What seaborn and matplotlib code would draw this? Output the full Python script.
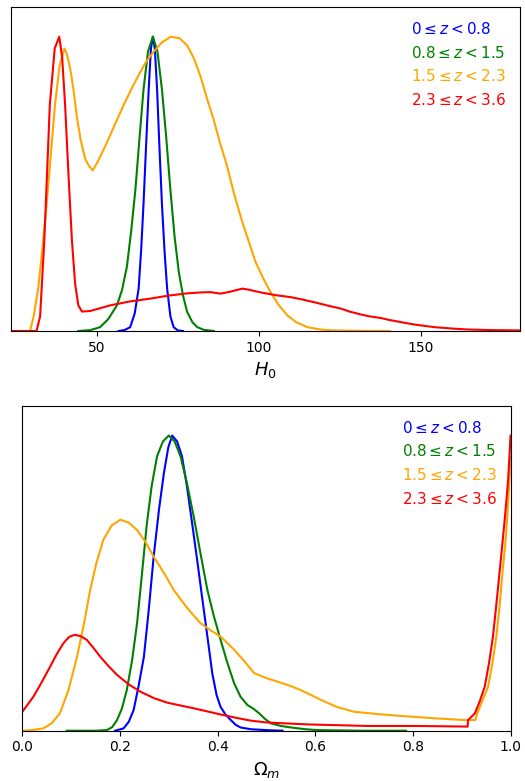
import numpy as np
import pandas as pd
import matplotlib
matplotlib.use("Agg")
import matplotlib.pyplot as plt
import seaborn as sns

# redshift bins and their colours
labels = [r"$0\leq z<0.8$", r"$0.8\leq z<1.5$", r"$1.5\leq z<2.3$", r"$2.3\leq z<3.6$"]
colors = ["blue", "green", "orange", "red"]

# ---- H0 marginals (normalised to peak = 1)
h0_blue_x = [56.7, 58.5, 60.3, 61.7, 62.9, 63.7, 64.4, 65.2, 66.0, 66.7, 67.3, 67.9, 68.6, 69.3, 70.1,
             70.9, 71.7, 72.7, 73.7, 75.0, 76.6]
h0_blue_y = [0, 0.003, 0.013, 0.06, 0.144, 0.28, 0.43, 0.63, 0.82, 0.96, 1.0, 0.96, 0.82, 0.63, 0.43,
             0.27, 0.144, 0.05, 0.013, 0.002, 0]

h0_green_x = [44.3, 48, 51, 53.5, 56.2, 57.8, 59.3, 60.6, 61.9, 63.2, 64.4, 65.8, 67.3, 68.7, 70.1,
              71.4, 72.7, 74.0, 75.3, 76.6, 77.9, 79.5, 81, 83, 86.1]
h0_green_y = [0, 0.003, 0.013, 0.04, 0.087, 0.14, 0.22, 0.34, 0.48, 0.66, 0.82, 0.95, 1.0, 0.95, 0.82,
              0.66, 0.48, 0.32, 0.2, 0.12, 0.064, 0.03, 0.013, 0.004, 0]

h0_orange_x = [29.4, 30.5, 31.9, 33.2, 34.5, 35.8, 37.1, 38.5, 40.0, 40.8, 41.8, 42.8, 43.8, 45.0, 46.4,
               47.6, 48.8, 50.5, 53.1, 55.5, 58.2, 60.8, 63.4, 65.5, 67.5, 70, 72.8, 75.5, 77.9, 80,
               82, 84, 86, 88, 90.2, 92.5, 94.9, 97, 99, 101.3, 103.6, 106, 108.8, 111.5, 115,
               119, 123, 130, 140.5]
h0_orange_y = [0, 0.05, 0.144, 0.28, 0.43, 0.6, 0.77, 0.9, 0.96, 0.94, 0.89, 0.82, 0.73, 0.65, 0.585,
               0.56, 0.546, 0.58, 0.64, 0.70, 0.766, 0.825, 0.88, 0.92, 0.948, 0.98, 1.0, 0.995, 0.97, 0.925,
               0.865, 0.79, 0.72, 0.64, 0.56, 0.46, 0.37, 0.3, 0.234, 0.18, 0.132, 0.09, 0.053, 0.03, 0.013,
               0.005, 0.002, 0.001, 0]

h0_red_x = [23.6, 31.4, 32.5, 33.8, 35.5, 37.0, 38.4, 39.3, 40.2, 41.3, 42.3, 43.3, 44.3, 45.4, 48,
            54.1, 60, 66.5, 72, 78, 82, 85, 88.2, 91, 94.9, 97, 100.6, 105, 109.8, 113,
            117, 121, 125.3, 128, 131.5, 134, 137.7, 140, 143.9, 148, 154.2, 160, 164.6, 172, 180.6]
h0_red_y = [0, 0, 0.05, 0.31, 0.77, 0.96, 1.0, 0.93, 0.77, 0.52, 0.31, 0.16, 0.087, 0.066, 0.068,
            0.087, 0.1, 0.11, 0.12, 0.128, 0.131, 0.132, 0.127, 0.133, 0.144, 0.14, 0.131, 0.122, 0.115, 0.108,
            0.098, 0.087, 0.076, 0.066, 0.056, 0.05, 0.044, 0.038, 0.03, 0.022, 0.013, 0.008, 0.005, 0.003, 0.002]

# ---- Omega_m marginals
om_blue_x = [0.19, 0.2075, 0.218, 0.228, 0.238, 0.249, 0.259, 0.269, 0.280, 0.290, 0.299, 0.307, 0.317,
             0.327, 0.337, 0.348, 0.358, 0.368, 0.379, 0.389, 0.398, 0.406, 0.416, 0.427, 0.437, 0.447,
             0.468, 0.5, 0.533]
om_blue_y = [0, 0.008, 0.03, 0.07, 0.15, 0.25, 0.41, 0.59, 0.75, 0.873, 0.96, 1.0, 0.98,
             0.93, 0.83, 0.70, 0.58, 0.455, 0.32, 0.195, 0.12, 0.081, 0.055, 0.036, 0.02, 0.011,
             0.005, 0.002, 0]

om_green_x = [0.091, 0.15, 0.173, 0.184, 0.194, 0.204, 0.214, 0.225, 0.235, 0.245, 0.255, 0.265, 0.276,
              0.288, 0.30, 0.312, 0.324, 0.337, 0.351, 0.365, 0.379, 0.392, 0.406, 0.420, 0.434, 0.447,
              0.461, 0.473, 0.485, 0.497, 0.509, 0.53, 0.55, 0.58, 0.605, 0.7, 0.786]
om_green_y = [0, 0, 0.002, 0.012, 0.036, 0.075, 0.138, 0.24, 0.364, 0.53, 0.70, 0.83, 0.93,
              0.98, 1.0, 0.98, 0.93, 0.84, 0.726, 0.60, 0.477, 0.39, 0.308, 0.23, 0.16, 0.115,
              0.087, 0.075, 0.059, 0.04, 0.025, 0.016, 0.011, 0.005, 0.002, 0, 0]

om_orange_x = [0, 0.02, 0.043, 0.06, 0.077, 0.095, 0.112, 0.126, 0.139, 0.152, 0.166, 0.183, 0.2007,
               0.218, 0.235, 0.252, 0.269, 0.29, 0.31, 0.338, 0.365, 0.386, 0.406, 0.42, 0.434, 0.455,
               0.475, 0.5, 0.523, 0.547, 0.57, 0.59, 0.612, 0.645, 0.68, 0.73, 0.776, 0.845, 0.906,
               0.928, 0.931, 0.942, 0.954, 0.963, 0.971, 0.978, 0.984, 0.989, 0.993, 0.997, 1.0]
om_orange_y = [0, 0.002, 0.008, 0.025, 0.059, 0.14, 0.25, 0.36, 0.477, 0.57, 0.647, 0.695, 0.715,
               0.705, 0.68, 0.64, 0.59, 0.535, 0.477, 0.415, 0.364, 0.34, 0.319, 0.297, 0.274, 0.235,
               0.195, 0.178, 0.166, 0.153, 0.138, 0.122, 0.104, 0.08, 0.064, 0.056, 0.05, 0.042, 0.036,
               0.036, 0.055, 0.1, 0.149, 0.23, 0.32, 0.43, 0.545, 0.63, 0.715, 0.83, 0.93]

om_red_x = [0, 0.0226, 0.04, 0.057, 0.07, 0.084, 0.096, 0.108, 0.12, 0.132, 0.146, 0.16, 0.177, 0.194,
            0.218, 0.242, 0.27, 0.297, 0.325, 0.351, 0.38, 0.406, 0.437, 0.468, 0.5, 0.536, 0.59, 0.639,
            0.708, 0.81, 0.912, 0.913, 0.927, 0.937, 0.947, 0.956, 0.964, 0.971, 0.978, 0.983, 0.988,
            0.992, 0.995, 1.0]
om_red_y = [0.064, 0.115, 0.165, 0.217, 0.258, 0.296, 0.318, 0.325, 0.32, 0.308, 0.28, 0.25, 0.218, 0.189,
            0.157, 0.132, 0.11, 0.095, 0.085, 0.076, 0.065, 0.055, 0.044, 0.034, 0.028, 0.025, 0.021, 0.019,
            0.016, 0.016, 0.014, 0.036, 0.059, 0.1, 0.149, 0.23, 0.32, 0.43, 0.545, 0.63, 0.715,
            0.79, 0.85, 1.0]

h0_curves = [(h0_blue_x, h0_blue_y), (h0_green_x, h0_green_y),
             (h0_orange_x, h0_orange_y), (h0_red_x, h0_red_y)]
om_curves = [(om_blue_x, om_blue_y), (om_green_x, om_green_y),
             (om_orange_x, om_orange_y), (om_red_x, om_red_y)]


def draw(ax, curves):
    for (x, y), lab, col in zip(curves, labels, colors):
        df = pd.DataFrame({"x": x, "y": y})
        sns.lineplot(data=df, x="x", y="y", ax=ax, color=col, linewidth=1.5,
                     sort=False, estimator=None, label=lab)
    leg = ax.legend(loc="upper right", frameon=False, fontsize=11,
                    handlelength=0, handletextpad=0, labelcolor="linecolor")
    for h in leg.legend_handles:
        h.set_visible(False)
    ax.set_yticks([])
    ax.set_ylabel("")


fig = plt.figure(figsize=(5.25, 7.81), dpi=100)
ax1 = fig.add_axes([0.0215, 0.5762, 0.969, 0.4145])
ax2 = fig.add_axes([0.0425, 0.0644, 0.930, 0.4157])

draw(ax1, h0_curves)
ax1.set_xlim(23.6, 180.6)
ax1.set_ylim(0, 1.1)
ax1.set_xticks([50, 100, 150])
ax1.set_xlabel(r"$H_0$", fontsize=13)

draw(ax2, om_curves)
ax2.set_xlim(0, 1)
ax2.set_ylim(0, 1.1)
ax2.set_xticks([0.0, 0.2, 0.4, 0.6, 0.8, 1.0])
ax2.set_xlabel(r"$\Omega_m$", fontsize=13)

fig.savefig("out.png", dpi=100)
